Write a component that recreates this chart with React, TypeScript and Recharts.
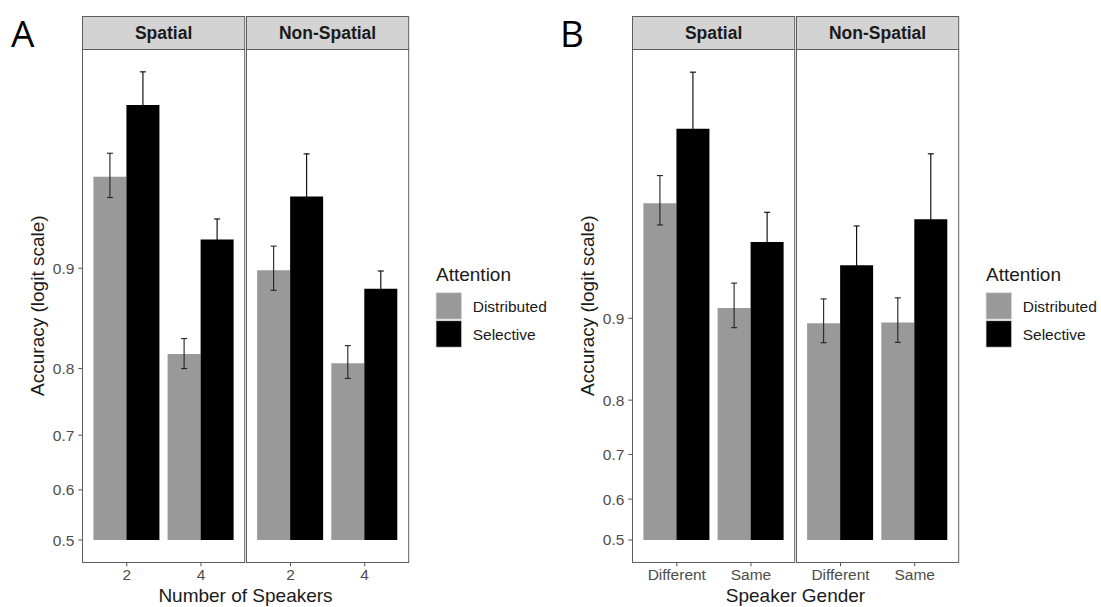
import React from 'react';
import { BarChart, Bar, XAxis, YAxis, ErrorBar } from 'recharts';

const facets = ['Spatial', 'Non-Spatial'];
const attention = ['Distributed', 'Selective'];
const yTicks = [0.5, 0.6, 0.7, 0.8, 0.9];

// Panel A: number of speakers. Order: Spatial-2, Spatial-4, Non-Spatial-2, Non-Spatial-4
const speakers = ['2', '4'];
const aDistMean = [0.9497, 0.8183, 0.8986, 0.8068];
const aDistLow = [0.941, 0.800, 0.8828, 0.787];
const aDistHigh = [0.958, 0.836, 0.915, 0.828];
const aSelMean = [0.9712, 0.919, 0.9414, 0.884];
const aSelLow = [0.9626, 0.9057, 0.919, 0.868];
const aSelHigh = [0.9778, 0.9306, 0.9578, 0.898];

// Panel B: speaker gender. Order: Spatial-Different, Spatial-Same, Non-Spatial-Different, Non-Spatial-Same
const gender = ['Different', 'Same'];
const bDistMean = [0.9657, 0.9089, 0.8954, 0.8961];
const bDistLow = [0.9578, 0.8913, 0.876, 0.8764];
const bDistHigh = [0.9737, 0.9273, 0.916, 0.9168];
const bSelMean = [0.9833, 0.9504, 0.9383, 0.96];
const bSelLow = [0.9712, 0.9344, 0.9117, 0.9266];
const bSelHigh = [0.9904, 0.9626, 0.9574, 0.9787];

const logit = (p: number) => Math.log(p / (1 - p));
const invLogit = (v: number) => 1 / (1 + Math.exp(-v));

const FONT = '"Liberation Sans", Arial, Helvetica, sans-serif';
const GREY = '#999999';
const PLOT_TOP = 49;
const PLOT_H = 513.3;
const X_AXIS_H = 30;
const Y_AXIS_W = 62.3;

const buildRows = (cats: string[], f: number, dm: number[], dl: number[], dh: number[], sm: number[], sl: number[], sh: number[]) =>
  cats.map((c, i) => {
    const k = f * 2 + i;
    const d = logit(dm[k]);
    const s = logit(sm[k]);
    return {
      cat: c,
      dist: d,
      distErr: [d - logit(dl[k]), logit(dh[k]) - d],
      sel: s,
      selErr: [s - logit(sl[k]), logit(sh[k]) - s],
    };
  });

const FacetChart = ({ rows, left, plotW, domain, showY }: any) => {
  const pad = (0.1 * plotW) / 2.2;
  const width = plotW + (showY ? Y_AXIS_W : 0);
  return (
    <div style={{ position: 'absolute', left: showY ? left - Y_AXIS_W : left, top: PLOT_TOP }}>
      <BarChart
        width={width}
        height={PLOT_H + X_AXIS_H}
        data={rows}
        margin={{ top: 0, right: 0, bottom: 0, left: 0 }}
        barCategoryGap="5%"
        barGap={0}
      >
        <XAxis
          dataKey="cat"
          padding={{ left: pad, right: pad }}
          axisLine={false}
          height={X_AXIS_H}
          interval={0}
          tickSize={4}
          tickMargin={3}
          tickLine={{ stroke: '#555' }}
          tick={{ fill: '#4d4d4d', fontSize: 15.5 }}
        />
        <YAxis
          type="number"
          domain={domain}
          allowDataOverflow
          ticks={yTicks.map(logit)}
          tickFormatter={(v: number) => invLogit(v).toFixed(1)}
          hide={!showY}
          width={Y_AXIS_W}
          axisLine={false}
          tickSize={4}
          tickMargin={4}
          tickLine={{ stroke: '#555' }}
          tick={{ fill: '#4d4d4d', fontSize: 15.5 }}
        />
        <Bar dataKey="dist" name={attention[0]} fill={GREY} isAnimationActive={false}>
          <ErrorBar dataKey="distErr" direction="y" width={3} stroke="#222" strokeWidth={1.1} />
        </Bar>
        <Bar dataKey="sel" name={attention[1]} fill="#000" isAnimationActive={false}>
          <ErrorBar dataKey="selErr" direction="y" width={3} stroke="#000" strokeWidth={1.1} />
        </Bar>
      </BarChart>
    </div>
  );
};

const Panel = ({ letter, dx, cats, arrays, domain, xTitle }: any) => {
  const lefts = [82.3 + dx, 245.5 + dx];
  const plotW = 163.2;
  const [dm, dl, dh, sm, sl, sh] = arrays;
  return (
    <>
      {facets.map((f, i) => (
        <FacetChart
          key={f}
          rows={buildRows(cats, i, dm, dl, dh, sm, sl, sh)}
          left={lefts[i]}
          plotW={plotW}
          domain={domain}
          showY={i === 0}
        />
      ))}
      <svg width={1101} height={607} style={{ position: 'absolute', left: 0, top: 0, pointerEvents: 'none' }}>
        <text x={dx === 0 ? 11 : 560} y={46.7} fontSize={37} fontFamily='"Open Sans", sans-serif' fill="#000">
          {letter}
        </text>
        {facets.map((f, i) => {
          const x0 = Math.round(lefts[i]) + 0.5;
          const w = plotW - 1;
          return (
            <g key={f}>
              <rect x={x0} y={16.5} width={w} height={33} fill="#d3d3d3" stroke="#5e5e5e" strokeWidth={1} />
              <rect x={x0} y={49.5} width={w} height={513} fill="none" stroke="#5e5e5e" strokeWidth={1} />
              <text x={x0 + w / 2} y={39.3} textAnchor="middle" fontSize={17.5} fontWeight="bold" fill="#1a1a1a">
                {f}
              </text>
            </g>
          );
        })}
        <text
          transform={`translate(${43.5 + dx},${PLOT_TOP + PLOT_H / 2}) rotate(-90)`}
          textAnchor="middle"
          fontSize={19}
          fill="#1a1a1a"
        >
          Accuracy (logit scale)
        </text>
        <text x={245.5 + dx} y={601.5} textAnchor="middle" fontSize={19} fill="#1a1a1a">
          {xTitle}
        </text>
        <text x={436 + dx} y={280.7} fontSize={19} fill="#1a1a1a">
          Attention
        </text>
        <rect x={436 + dx} y={292.7} width={25.7} height={26.5} fill={GREY} stroke="#e0e0e0" strokeWidth={0.8} />
        <rect x={436 + dx} y={320.7} width={25.7} height={26.5} fill="#000" stroke="#e0e0e0" strokeWidth={0.8} />
        <text x={472.7 + dx} y={312} fontSize={15.5} fill="#1a1a1a">
          {attention[0]}
        </text>
        <text x={472.7 + dx} y={339.5} fontSize={15.5} fill="#1a1a1a">
          {attention[1]}
        </text>
      </svg>
    </>
  );
};

export default function App() {
  return (
    <div
      style={{
        position: 'absolute',
        left: 0,
        top: 0,
        width: 1101,
        height: 607,
        overflow: 'hidden',
        background: '#fff',
        fontFamily: FONT,
      }}
    >
      <Panel
        letter="A"
        dx={0}
        cats={speakers}
        arrays={[aDistMean, aDistLow, aDistHigh, aSelMean, aSelLow, aSelHigh]}
        domain={[-0.18, 3.97]}
        xTitle="Number of Speakers"
      />
      <Panel
        letter="B"
        dx={550}
        cats={gender}
        arrays={[bDistMean, bDistLow, bDistHigh, bSelMean, bSelLow, bSelHigh]}
        domain={[-0.221, 4.866]}
        xTitle="Speaker Gender"
      />
    </div>
  );
}
